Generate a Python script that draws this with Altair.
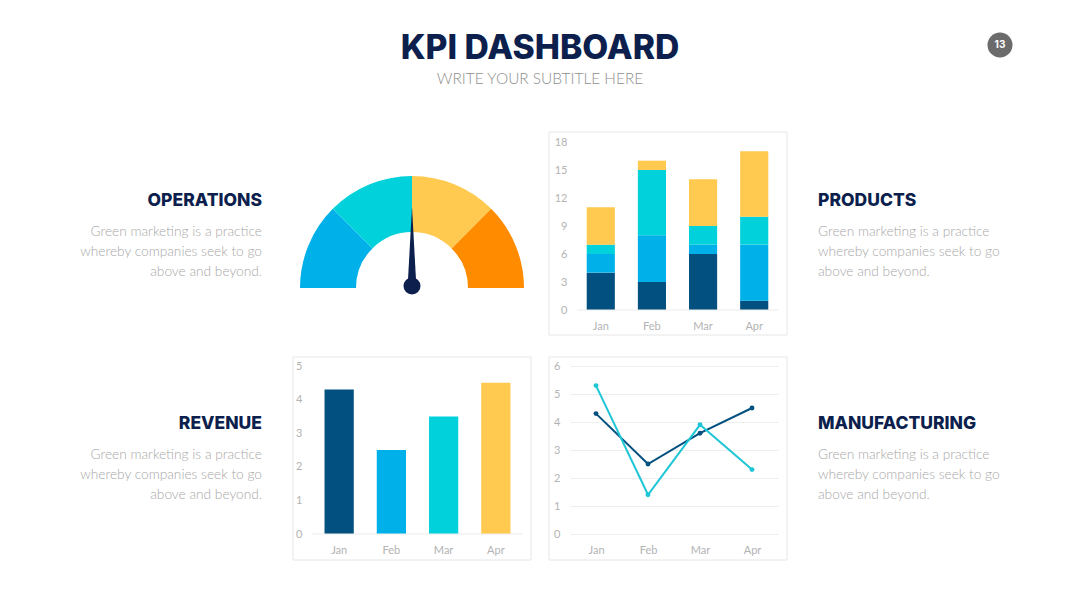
import math

import altair as alt
import pandas as pd

# ---- content ---------------------------------------------------------------
months = ["Jan", "Feb", "Mar", "Apr"]

# Products: stacked components per month, listed bottom to top
prod_series = ["Series 1", "Series 2", "Series 3", "Series 4"]
prod_s1 = [4, 3, 6, 1]
prod_s2 = [2, 5, 1, 6]
prod_s3 = [1, 7, 2, 3]
prod_s4 = [4, 1, 5, 7]

# Revenue per month
revenue = [4.3, 2.5, 3.5, 4.5]

# Manufacturing: two series per month
mfg_series = ["Series 1", "Series 2"]
mfg_s1 = [4.3, 2.5, 3.6, 4.5]
mfg_s2 = [5.3, 1.4, 3.9, 2.3]

# Operations gauge: four equal bands and the needle reading (0-100)
gauge_segments = ["Low", "Fair", "Good", "High"]
gauge_shares = [25, 25, 25, 25]
gauge_value = 50

title = "KPI DASHBOARD"
subtitle = "WRITE YOUR SUBTITLE HERE"
page_number = "13"
headings = ["OPERATIONS", "PRODUCTS", "REVENUE", "MANUFACTURING"]
body_text = "Green marketing is a practice\nwhereby companies seek to go\nabove and beyond."

# ---- palette ---------------------------------------------------------------
NAVY = "#0c1f4d"
DARK = "#02507f"
BLUE = "#00b1e9"
CYAN = "#00d1db"
YELLOW = "#ffca4f"
ORANGE = "#ff8c00"
LINE_CYAN = "#1fc6d6"
FRAME = "#e6e6e6"
LABEL = "#b3b3b3"
BODY = "#a8a8a8"

HEAD_FONT = "Inter"
BODY_FONT = "Lato"

# grid columns (px): text | gauge / revenue | products / manufacturing | text
COL_W = [300, 270, 208, 302]
ROW_H = 168


def axis(**kw):
    return alt.Axis(domain=False, ticks=False, labelFont=BODY_FONT, labelFontSize=11,
                    labelColor=LABEL, labelPadding=10, labelOverlap=False, title=None,
                    **kw)


def frame(x1, x2, y1, y2):
    """Thin light border drawn around a chart card."""
    return alt.Chart(pd.DataFrame({"k": [0]})).mark_rect(
        fillOpacity=0, stroke=FRAME, strokeWidth=1
    ).encode(x=alt.value(x1), x2=alt.value(x2), y=alt.value(y1), y2=alt.value(y2))


def baseline(x1, x2, y_scale, y_axis):
    """Light rule along the zero line; shares the bar layer's y scale and axis."""
    return alt.Chart(pd.DataFrame({"k": [0]})).mark_rule(color="#ececec").encode(
        y=alt.YDatum(0, scale=y_scale, axis=y_axis), x=alt.value(x1), x2=alt.value(x2))


def text_panel(heading, width, x, align, y_head, y_body):
    df = pd.DataFrame({"heading": [heading], "body": [body_text]})
    base = alt.Chart(df)
    head = base.mark_text(font=HEAD_FONT, fontSize=17.5, fontWeight=800, color=NAVY,
                          align=align, baseline="middle").encode(
        text="heading:N", x=alt.value(x), y=alt.value(y_head))
    body = base.mark_text(font=BODY_FONT, fontSize=13.7, fontWeight=300, color=BODY,
                          align=align, baseline="middle", lineBreak="\n",
                          lineHeight=20).encode(
        text="body:N", x=alt.value(x), y=alt.value(y_body))
    return alt.layer(head, body).properties(width=width, height=ROW_H)


# ---- header ----------------------------------------------------------------
header_df = pd.DataFrame({"title": [title], "subtitle": [subtitle], "page": [page_number]})
hbase = alt.Chart(header_df)
header = alt.layer(
    hbase.mark_text(font=HEAD_FONT, fontSize=33.7, fontWeight=800, color=NAVY,
                    align="center", baseline="middle").encode(
        text="title:N", x=alt.value(540), y=alt.value(49)),
    hbase.mark_text(font=BODY_FONT, fontSize=15.4, fontWeight=300, color="#8f8f8f",
                    align="center", baseline="middle").encode(
        text="subtitle:N", x=alt.value(540), y=alt.value(79)),
    hbase.mark_point(shape="circle", filled=True, size=625, opacity=1,
                     color="#6b6b6b").encode(x=alt.value(1000), y=alt.value(45)),
    hbase.mark_text(font=HEAD_FONT, fontSize=10, fontWeight=700, color="white",
                    align="center", baseline="middle").encode(
        text="page:N", x=alt.value(1000), y=alt.value(45)),
).properties(width=1080, height=86)

# ---- gauge -----------------------------------------------------------------
gauge_df = pd.DataFrame({"segment": gauge_segments, "share": gauge_shares,
                         "idx": list(range(len(gauge_segments)))})
needle_df = pd.DataFrame({"value": [gauge_value]})
GX, GY = 112, 146
needle_path = "M-0.055,0 L0,-1 L0.055,0 Z"

gauge = alt.layer(
    alt.Chart(gauge_df).mark_arc(innerRadius=56, outerRadius=112).encode(
        theta=alt.Theta("share:Q", stack=True,
                        scale=alt.Scale(range=[-math.pi / 2, math.pi / 2])),
        color=alt.Color("segment:N", legend=None,
                        scale=alt.Scale(domain=gauge_segments,
                                        range=[BLUE, CYAN, YELLOW, ORANGE])),
        order=alt.Order("idx:Q"),
        x=alt.value(GX), y=alt.value(GY)),
    alt.Chart(needle_df).mark_point(shape=needle_path, filled=True, size=25600,
                                    opacity=1, color=NAVY).encode(
        angle=alt.Angle("value:Q", scale=alt.Scale(domain=[0, 100], range=[270, 450])),
        x=alt.value(GX), y=alt.value(GY - 1)),
    alt.Chart(needle_df).mark_point(shape="circle", filled=True, size=289,
                                    opacity=1, color=NAVY).encode(
        x=alt.value(GX), y=alt.value(GY - 2)),
).properties(width=COL_W[1], height=ROW_H)

# ---- products: stacked bars (plot band starts 7px into its column) ---------
prod_rows = []
for i, (s, vals) in enumerate(zip(prod_series, [prod_s1, prod_s2, prod_s3, prod_s4])):
    for m, v in zip(months, vals):
        prod_rows.append({"month": m, "series": s, "order": i, "value": v})
prod_df = pd.DataFrame(prod_rows)

prod_y_scale = alt.Scale(domain=[0, 18], nice=False)
prod_y_axis = axis(values=list(range(0, 19, 3)), grid=False, offset=-7)

stacked = alt.layer(
    frame(-21, 217, -10, 193),
    alt.Chart(prod_df).mark_bar().encode(
        x=alt.X("month:N", sort=months,
                scale=alt.Scale(range=[7, 208], paddingInner=0.45, paddingOuter=0.19),
                axis=axis(labelAngle=0)),
        y=alt.Y("value:Q", stack="zero", scale=prod_y_scale, axis=prod_y_axis),
        color=alt.Color("series:N", legend=None,
                        scale=alt.Scale(domain=prod_series,
                                        range=[DARK, BLUE, CYAN, YELLOW])),
        order=alt.Order("order:Q")),
    baseline(7, 208, prod_y_scale, prod_y_axis),
).properties(width=COL_W[2], height=ROW_H)

# ---- revenue: bars (plot band starts 12px into its column) -----------------
rev_df = pd.DataFrame({"month": months, "value": revenue})
rev_y_scale = alt.Scale(domain=[0, 5], nice=False)
rev_y_axis = axis(values=list(range(0, 6)), grid=False, offset=-12)

bars = alt.layer(
    frame(-7, 231, -9, 194),
    alt.Chart(rev_df).mark_bar().encode(
        x=alt.X("month:N", sort=months,
                scale=alt.Scale(range=[12, 223], paddingInner=0.44, paddingOuter=0.24),
                axis=axis(labelAngle=0)),
        y=alt.Y("value:Q", scale=rev_y_scale, axis=rev_y_axis),
        color=alt.Color("month:N", legend=None,
                        scale=alt.Scale(domain=months, range=[DARK, BLUE, CYAN, YELLOW]))),
    baseline(12, 223, rev_y_scale, rev_y_axis),
).properties(width=COL_W[1], height=ROW_H)

# ---- manufacturing: lines --------------------------------------------------
mfg_rows = []
for s, vals in zip(mfg_series, [mfg_s1, mfg_s2]):
    for m, v in zip(months, vals):
        mfg_rows.append({"month": m, "series": s, "value": v})
mfg_df = pd.DataFrame(mfg_rows)

lines = alt.layer(
    frame(-21, 217, -9, 194),
    alt.Chart(mfg_df).mark_line(strokeWidth=2,
                                point=alt.OverlayMarkDef(filled=True, size=24)).encode(
        x=alt.X("month:N", sort=months, scale=alt.Scale(type="point", padding=0.5),
                axis=axis(labelAngle=0)),
        y=alt.Y("value:Q", scale=alt.Scale(domain=[0, 6], nice=False),
                axis=axis(values=list(range(0, 7)), grid=True, gridColor="#eeeeee")),
        color=alt.Color("series:N", legend=None,
                        scale=alt.Scale(domain=mfg_series, range=[DARK, LINE_CYAN]))),
).properties(width=COL_W[2], height=ROW_H)

# ---- assembly: 4-column grid under the header ------------------------------
grid = alt.concat(
    text_panel(headings[0], COL_W[0], 262, "right", 59, 90),
    gauge,
    stacked,
    text_panel(headings[1], COL_W[3], 40, "left", 59, 90),
    text_panel(headings[2], COL_W[0], 262, "right", 58, 89),
    bars,
    lines,
    text_panel(headings[3], COL_W[3], 40, "left", 58, 89),
    columns=4,
    spacing={"row": 56, "column": 0},
    bounds="flush",
).resolve_scale(color="independent", theta="independent", angle="independent")

chart = alt.vconcat(header, grid, spacing=56, bounds="flush").properties(
    padding=0, background="white"
).configure_view(stroke=None)

chart.save("out.html", embed_options={"renderer": "svg", "actions": False})
